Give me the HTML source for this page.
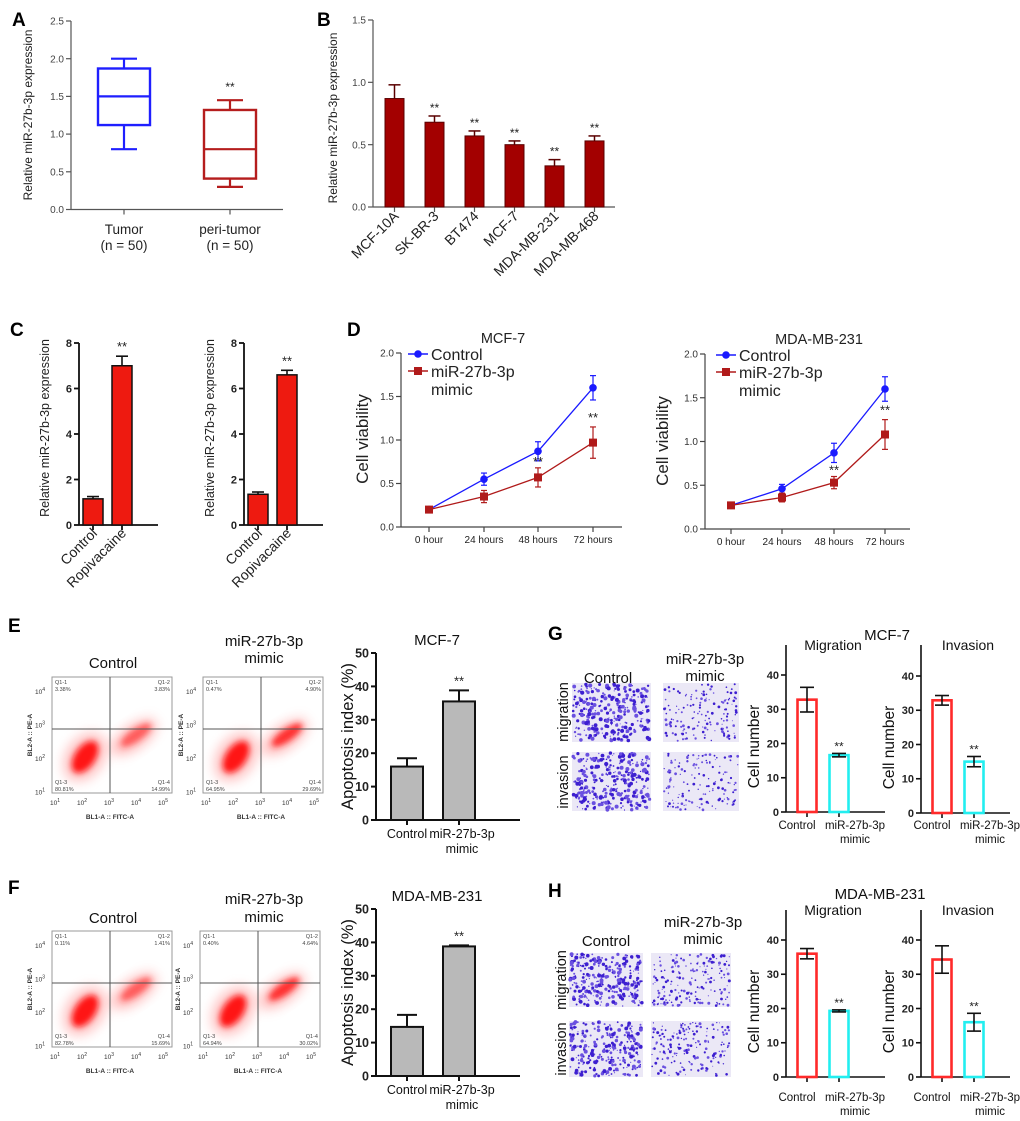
<!DOCTYPE html>
<html><head><meta charset="utf-8"><style>
html,body{margin:0;padding:0;background:#fff}
svg{display:block;font-family:"Liberation Sans",Arial,sans-serif}
</style></head><body>
<svg id="fig" xmlns="http://www.w3.org/2000/svg" width="1020" height="1121" viewBox="0 0 1020 1121">
<defs>
<filter id="blur3" x="-50%" y="-50%" width="200%" height="200%"><feGaussianBlur stdDeviation="3"/></filter>
<filter id="blur6" x="-50%" y="-50%" width="200%" height="200%"><feGaussianBlur stdDeviation="6"/></filter>
</defs>
<g font-weight="bold" font-size="19">
<text x="12" y="26">A</text>
<text x="317" y="26">B</text>
<text x="10" y="336">C</text>
<text x="347" y="336">D</text>
<text x="8" y="632">E</text>
<text x="548" y="640">G</text>
<text x="8" y="894">F</text>
<text x="548" y="897">H</text>
</g>
<g id="root"></g>
</svg>
<script>
// ---------- data ----------
const boxCats = ['Tumor', 'peri-tumor'];
const boxMin = [0.8, 0.3];
const boxQ1 = [1.12, 0.41];
const boxMed = [1.5, 0.8];
const boxQ3 = [1.87, 1.32];
const boxMax = [2.0, 1.45];
const aTicks = [0, 0.5, 1.0, 1.5, 2.0, 2.5];

const bCats = ['MCF-10A', 'SK-BR-3', 'BT474', 'MCF-7', 'MDA-MB-231', 'MDA-MB-468'];
const bVals = [0.87, 0.68, 0.57, 0.50, 0.33, 0.53];
const bErr = [0.11, 0.05, 0.04, 0.03, 0.05, 0.04];
const bTicks = [0, 0.5, 1.0, 1.5];

const cCats = ['Control', 'Ropivacaine'];
const c1Vals = [1.15, 7.0];
const c1Err = [0.1, 0.42];
const c2Vals = [1.35, 6.6];
const c2Err = [0.1, 0.2];
const cTicks = [0, 2, 4, 6, 8];

const dCats = ['0 hour', '24 hours', '48 hours', '72 hours'];
const d1Ctrl = [0.2, 0.55, 0.87, 1.6];
const d1CtrlErr = [0.02, 0.07, 0.11, 0.14];
const d1Mim = [0.2, 0.35, 0.57, 0.97];
const d1MimErr = [0.02, 0.07, 0.11, 0.18];
const d2Ctrl = [0.27, 0.46, 0.87, 1.6];
const d2CtrlErr = [0.02, 0.05, 0.11, 0.14];
const d2Mim = [0.27, 0.36, 0.53, 1.08];
const d2MimErr = [0.02, 0.05, 0.07, 0.17];
const dTicks = [0, 0.5, 1.0, 1.5, 2.0];

const apCats = ['Control', 'miR-27b-3p'];
const eVals = [16, 35.5];
const eErr = [2.5, 3.3];
const fVals = [14.7, 38.8];
const fErr = [3.6, 0.3];
const apTicks = [0, 10, 20, 30, 40, 50];

const gMig = [32.8, 16.6];
const gMigErr = [3.6, 0.5];
const gInv = [32.9, 15];
const gInvErr = [1.4, 1.5];
const hMig = [36, 19.3];
const hMigErr = [1.5, 0.3];
const hInv = [34.3, 16];
const hInvErr = [4, 2.6];
const cnTicks = [0, 10, 20, 30, 40];

// ---------- helpers ----------
const NS = 'http://www.w3.org/2000/svg';
const root = document.getElementById('root');
function mk(tag, attrs, parent) {
  const n = document.createElementNS(NS, tag);
  for (const k in attrs) n.setAttribute(k, attrs[k]);
  (parent || root).appendChild(n);
  return n;
}
function nm(n, name, inter) {
  
  
  return n;
}
function txt(s, attrs, parent, name) {
  const t = mk('text', attrs, parent);
  t.textContent = s;
  nm(t, name);
  return t;
}
function lin(y0, yTop, vmax) { return v => y0 - v / vmax * (y0 - yTop); }

function yAxis(g, x, y0, yTop, scale, ticks, fmt, opt) {
  const ax = mk('line', {x1: x, y1: y0, x2: x, y2: opt.top || yTop, stroke: opt.color, 'stroke-width': opt.w}, g);
  nm(ax, 'y-axis');
  ticks.forEach(t => {
    const y = scale(t);
    const tk = mk('line', {x1: x - 5, y1: y, x2: x, y2: y, stroke: opt.color, 'stroke-width': opt.w}, g);
    nm(tk, 'y-tick');
    txt(fmt(t), {x: x - 7, y: y + opt.fs * 0.36, 'text-anchor': 'end', 'font-size': opt.fs, 'font-weight': opt.bold ? 'bold' : 'normal', fill: opt.tcolor || '#222'}, g, 'y-tick-label');
  });
}
function xAxis(g, x1, x2, y, xs, opt) {
  const ax = mk('line', {x1: x1, y1: y, x2: x2, y2: y, stroke: opt.color, 'stroke-width': opt.w}, g);
  nm(ax, 'x-axis');
  xs.forEach(x => {
    const tk = mk('line', {x1: x, y1: y, x2: x, y2: y + 5, stroke: opt.color, 'stroke-width': opt.w}, g);
    nm(tk, 'x-tick');
  });
}
function stars(g, x, y, fs) { txt('**', {x: x, y: y, 'text-anchor': 'middle', 'font-size': fs || 13, fill: '#222'}, g, 'significance-marker'); }
function errUp(g, x, yv, ye, half, color, w) {
  const l = mk('line', {x1: x, y1: yv, x2: x, y2: ye, stroke: color, 'stroke-width': w}, g); nm(l, 'error-bar');
  const c = mk('line', {x1: x - half, y1: ye, x2: x + half, y2: ye, stroke: color, 'stroke-width': w}, g); nm(c, 'error-cap');
}
function errBoth(g, x, ylo, yhi, half, color, w) {
  const l = mk('line', {x1: x, y1: ylo, x2: x, y2: yhi, stroke: color, 'stroke-width': w}, g); nm(l, 'error-bar');
  [ylo, yhi].forEach(y => { const c = mk('line', {x1: x - half, y1: y, x2: x + half, y2: y, stroke: color, 'stroke-width': w}, g); nm(c, 'error-cap'); });
}
const f1 = t => t.toFixed(1);
const f0 = t => String(t);

// ---------- Panel A ----------
(function () {
  const g = nm(mk('g', {}), 'panel-a-boxplot');
  const y = lin(209.5, 21, 2.5);
  const xc = i => 124 + i * 106;
  yAxis(g, 71, 209.5, 21, y, aTicks, f1, {color: '#555', w: 1.2, fs: 10, tcolor: '#444'});
  xAxis(g, 71, 283, 209.5, boxCats.map((c, i) => xc(i)), {color: '#555', w: 1.2});
  const cols = ['#1f1fff', '#b51d1d'];
  boxCats.forEach((c, i) => {
    const x = xc(i), col = cols[i];
    const bx = mk('rect', {x: x - 26, y: y(boxQ3[i]), width: 52, height: y(boxQ1[i]) - y(boxQ3[i]), fill: 'none', stroke: col, 'stroke-width': 2.4}, g); nm(bx, 'box-' + c);
    const md = mk('line', {x1: x - 26, x2: x + 26, y1: y(boxMed[i]), y2: y(boxMed[i]), stroke: col, 'stroke-width': 2.2}, g); nm(md, 'median-line');
    errBoth(g, x, y(boxQ3[i]), y(boxMax[i]), 0, col, 2.2);
    errBoth(g, x, y(boxQ1[i]), y(boxMin[i]), 0, col, 2.2);
    const c1 = mk('line', {x1: x - 13, x2: x + 13, y1: y(boxMax[i]), y2: y(boxMax[i]), stroke: col, 'stroke-width': 2.2}, g); nm(c1, 'whisker-cap-max');
    const c2 = mk('line', {x1: x - 13, x2: x + 13, y1: y(boxMin[i]), y2: y(boxMin[i]), stroke: col, 'stroke-width': 2.2}, g); nm(c2, 'whisker-cap-min');
    txt(c, {x: x, y: 234, 'text-anchor': 'middle', 'font-size': 13.5, fill: '#222'}, g, 'x-category-label');
    txt('(n = 50)', {x: x, y: 250, 'text-anchor': 'middle', 'font-size': 13.5, fill: '#222'}, g, 'x-category-n');
  });
  stars(g, xc(1), y(boxMax[1]) - 9, 12);
  txt('Relative miR-27b-3p  expression', {transform: 'translate(32,115) rotate(-90)', 'text-anchor': 'middle', 'font-size': 12, fill: '#222'}, g, 'y-axis-title');
})();

// ---------- Panel B ----------
(function () {
  const g = nm(mk('g', {}), 'panel-b-bar-chart');
  const y = lin(207, 20, 1.5);
  const xc = i => 394.5 + i * 40;
  yAxis(g, 373, 207, 20, y, bTicks, f1, {color: '#555', w: 1.2, fs: 10, tcolor: '#444'});
  xAxis(g, 373, 615, 207, bCats.map((c, i) => xc(i)), {color: '#555', w: 1.2});
  bCats.forEach((c, i) => {
    const x = xc(i);
    errUp(g, x, y(bVals[i]), y(bVals[i] + bErr[i]), 6, '#5a0000', 1.5);
    const r = mk('rect', {x: x - 9.5, y: y(bVals[i]), width: 19, height: 207 - y(bVals[i]), fill: '#a30000', stroke: '#5a0000', 'stroke-width': 1}, g); nm(r, 'bar-' + c);
    if (i > 0) stars(g, x, y(bVals[i] + bErr[i]) - 4, 12);
    txt(c, {transform: 'translate(' + (x + 5) + ',217) rotate(-45)', 'text-anchor': 'end', 'font-size': 14, fill: '#222'}, g, 'x-category-label');
  });
  txt('Relative miR-27b-3p  expression', {transform: 'translate(337,118) rotate(-90)', 'text-anchor': 'middle', 'font-size': 12, fill: '#222'}, g, 'y-axis-title');
})();

// ---------- Panel C ----------
function panelC(ax, end, xs, vals, errs, labX, name) {
  const g = nm(mk('g', {}), name);
  const y = lin(525, 343, 8);
  yAxis(g, ax, 525, 343, y, cTicks, f0, {color: '#111', w: 1.8, fs: 11, bold: true});
  xAxis(g, ax, end, 525, xs, {color: '#111', w: 1.8});
  cCats.forEach((c, i) => {
    const x = xs[i];
    errUp(g, x, y(vals[i]), y(vals[i] + errs[i]), 6, '#111', 1.6);
    const r = mk('rect', {x: x - 10, y: y(vals[i]), width: 20, height: 525 - y(vals[i]), fill: '#ee1a10', stroke: '#111', 'stroke-width': 1.5}, g); nm(r, 'bar-' + c);
    txt(c, {transform: 'translate(' + (x + 5) + ',534) rotate(-45)', 'text-anchor': 'end', 'font-size': 14, fill: '#222'}, g, 'x-category-label');
  });
  stars(g, xs[1], y(vals[1] + errs[1]) - 5, 13);
  txt('Relative miR-27b-3p  expression', {transform: 'translate(' + labX + ',428) rotate(-90)', 'text-anchor': 'middle', 'font-size': 12.5, fill: '#222'}, g, 'y-axis-title');
}
panelC(79, 158, [93, 122], c1Vals, c1Err, 49, 'panel-c-left-bar-chart');
panelC(244, 323, [258, 287], c2Vals, c2Err, 214, 'panel-c-right-bar-chart');

// ---------- Panel D ----------
function panelD(ax, end, yTop, y0, xs, ctrl, ctrlE, mim, mimE, title, titleX, legX, labX, name) {
  const g = nm(mk('g', {}), name);
  const y = lin(y0, yTop, 2.0);
  yAxis(g, ax, y0, yTop, y, dTicks, f1, {color: '#444', w: 1.2, fs: 10, tcolor: '#333'});
  xAxis(g, ax, end, y0, xs, {color: '#444', w: 1.2});
  dCats.forEach((c, i) => txt(c, {x: xs[i], y: y0 + 16, 'text-anchor': 'middle', 'font-size': 10, fill: '#222'}, g, 'x-tick-label'));
  const series = [[ctrl, ctrlE, '#1a1aff', 'control'], [mim, mimE, '#b01a1a', 'mimic']];
  series.forEach(s => {
    const pts = s[0].map((v, i) => xs[i] + ',' + y(v)).join(' ');
    const pl = mk('polyline', {points: pts, fill: 'none', stroke: s[2], 'stroke-width': 1.3}, g); nm(pl, 'line-' + s[3]);
    s[0].forEach((v, i) => {
      errBoth(g, xs[i], y(v - s[1][i]), y(v + s[1][i]), 3, s[2], 1.2);
      let m;
      if (s[3] === 'control') m = mk('circle', {cx: xs[i], cy: y(v), r: 3.8, fill: s[2]}, g);
      else m = mk('rect', {x: xs[i] - 4, y: y(v) - 4, width: 8, height: 8, fill: s[2]}, g);
      nm(m, 'point-' + s[3]);
    });
  });
  stars(g, xs[2], y(mim[2] + mimE[2]) - 2, 13);
  stars(g, xs[3], y(mim[3] + mimE[3]) - 5, 13);
  txt(title, {x: titleX, y: yTop - 10, 'text-anchor': 'middle', 'font-size': 14.5, fill: '#222'}, g, 'chart-title');
  const l1 = mk('line', {x1: legX, x2: legX + 20, y1: yTop + 1, y2: yTop + 1, stroke: '#1a1aff', 'stroke-width': 1.5}, g); nm(l1, 'legend-line-control');
  const m1 = mk('circle', {cx: legX + 10, cy: yTop + 1, r: 3.8, fill: '#1a1aff'}, g); nm(m1, 'legend-marker-control');
  txt('Control', {x: legX + 23, y: yTop + 7, 'font-size': 16, fill: '#222'}, g, 'legend-entry-control');
  const l2 = mk('line', {x1: legX, x2: legX + 20, y1: yTop + 18, y2: yTop + 18, stroke: '#b01a1a', 'stroke-width': 1.5}, g); nm(l2, 'legend-line-mimic');
  const m2 = mk('rect', {x: legX + 6, y: yTop + 14, width: 8, height: 8, fill: '#b01a1a'}, g); nm(m2, 'legend-marker-mimic');
  txt('miR-27b-3p', {x: legX + 23, y: yTop + 24, 'font-size': 16, fill: '#222'}, g, 'legend-entry-mimic');
  txt('mimic', {x: legX + 23, y: yTop + 42, 'font-size': 16, fill: '#222'}, g, 'legend-entry-mimic-2');
  txt('Cell viability', {transform: 'translate(' + labX + ',' + (y0 - 88) + ') rotate(-90)', 'text-anchor': 'middle', 'font-size': 17, fill: '#222'}, g, 'y-axis-title');
}
panelD(401, 622, 353, 527, [429, 484, 538, 593], d1Ctrl, d1CtrlErr, d1Mim, d1MimErr, 'MCF-7', 503, 408, 368, 'panel-d-mcf7-line-chart');
panelD(705, 910, 354, 529, [731, 782, 834, 885], d2Ctrl, d2CtrlErr, d2Mim, d2MimErr, 'MDA-MB-231', 819, 716, 668, 'panel-d-mdamb231-line-chart');

// ---------- Flow cytometry plots ----------
const q1 = [['3.38%', '3.83%', '80.81%', '14.99%'], ['0.47%', '4.90%', '64.95%', '29.69%'], ['0.11%', '1.41%', '82.78%', '15.69%'], ['0.40%', '4.64%', '64.94%', '30.02%']];
function flow(x0, y0, q, heavy2, name) {
  const g = nm(mk('g', {}), name);
  const W = 120, H = 116;
  const bg = mk('rect', {x: x0, y: y0, width: W, height: H, fill: '#fff', stroke: '#999', 'stroke-width': 1}, g); nm(bg, 'plot-frame');
  const cg = mk('g', {}, g); nm(cg, 'scatter-density');
  let e;
  e = mk('ellipse', {cx: x0 + 33, cy: y0 + 80, rx: 18, ry: 26, fill: '#ff8080', opacity: 0.55, filter: 'url(#blur6)', transform: 'rotate(35 ' + (x0 + 33) + ' ' + (y0 + 80) + ')'}, cg); nm(e, 'population-halo');
  e = mk('ellipse', {cx: x0 + 33, cy: y0 + 80, rx: 10, ry: 18, fill: '#ff1010', opacity: 0.95, filter: 'url(#blur3)', transform: 'rotate(35 ' + (x0 + 33) + ' ' + (y0 + 80) + ')'}, cg); nm(e, 'population-live');
  e = mk('ellipse', {cx: x0 + 82, cy: y0 + 60, rx: 11, ry: 26, fill: '#ff7070', opacity: 0.55, filter: 'url(#blur6)', transform: 'rotate(55 ' + (x0 + 82) + ' ' + (y0 + 60) + ')'}, cg); nm(e, 'population-halo');
  e = mk('ellipse', {cx: x0 + 84, cy: y0 + 58, rx: 6, ry: 18, fill: '#ff2020', opacity: heavy2 ? 0.9 : 0.6, filter: 'url(#blur3)', transform: 'rotate(55 ' + (x0 + 84) + ' ' + (y0 + 58) + ')'}, cg); nm(e, 'population-apoptotic');
  const vl = mk('line', {x1: x0 + 58, x2: x0 + 58, y1: y0, y2: y0 + H, stroke: '#555', 'stroke-width': 1}, g); nm(vl, 'quadrant-line-vertical');
  const hl = mk('line', {x1: x0, x2: x0 + W, y1: y0 + 52, y2: y0 + 52, stroke: '#555', 'stroke-width': 1}, g); nm(hl, 'quadrant-line-horizontal');
  const qs = [['Q1-1', q[0], x0 + 3, y0 + 7, 'start'], ['Q1-2', q[1], x0 + W - 2, y0 + 7, 'end'], ['Q1-3', q[2], x0 + 3, y0 + H - 9, 'start'], ['Q1-4', q[3], x0 + W - 2, y0 + H - 9, 'end']];
  qs.forEach(a => {
    txt(a[0], {x: a[2], y: a[3], 'font-size': 5.5, 'text-anchor': a[4], fill: '#444'}, g, 'quadrant-label');
    txt(a[1], {x: a[2], y: a[3] + 7, 'font-size': 5.5, 'text-anchor': a[4], fill: '#444'}, g, 'quadrant-percent');
  });
  [1, 2, 3, 4, 5].forEach((p, i) => {
    const t = txt('10', {x: x0 + 3 + i * 27, y: y0 + H + 12, 'font-size': 6.5, 'text-anchor': 'middle', fill: '#333'}, g, 'x-tick-label');
    const s = mk('tspan', {dy: -3, 'font-size': 5}, t); s.textContent = p;
  });
  [4, 3, 2, 1].forEach((p, i) => {
    const t = txt('10', {x: x0 - 12, y: y0 + 17 + i * 33.5, 'font-size': 6.5, 'text-anchor': 'middle', fill: '#333'}, g, 'y-tick-label');
    const s = mk('tspan', {dy: -3, 'font-size': 5}, t); s.textContent = p;
  });
  txt('BL1-A :: FITC-A', {x: x0 + 58, y: y0 + H + 26, 'font-size': 6.5, 'font-weight': 'bold', 'text-anchor': 'middle', fill: '#333'}, g, 'x-axis-title');
  txt('BL2-A :: PE-A', {transform: 'translate(' + (x0 - 20) + ',' + (y0 + 58) + ') rotate(-90)', 'font-size': 6.5, 'font-weight': 'bold', 'text-anchor': 'middle', fill: '#333'}, g, 'y-axis-title');
}
flow(52, 677, q1[0], false, 'panel-e-flow-control');
flow(203, 677, q1[1], true, 'panel-e-flow-mimic');
flow(52, 931, q1[2], false, 'panel-f-flow-control');
flow(200, 931, q1[3], true, 'panel-f-flow-mimic');
[[113, 668, 'Control', 'panel-e-control-title'], [264, 646, 'miR-27b-3p', 'panel-e-mimic-title'], [264, 663, 'mimic', 'panel-e-mimic-title-2'],
 [113, 923, 'Control', 'panel-f-control-title'], [264, 904, 'miR-27b-3p', 'panel-f-mimic-title'], [264, 922, 'mimic', 'panel-f-mimic-title-2']].forEach(a => {
  txt(a[2], {x: a[0], y: a[1], 'font-size': 15, 'text-anchor': 'middle', fill: '#111'}, root, a[3]);
});

// ---------- Apoptosis bar charts ----------
function apop(y0, yTop, vals, errs, title, name) {
  const g = nm(mk('g', {}), name);
  const y = lin(y0, yTop, 50);
  yAxis(g, 376, y0, yTop, y, apTicks, f0, {color: '#111', w: 2, fs: 12.5, bold: true});
  xAxis(g, 376, 520, y0, [407, 459], {color: '#111', w: 2});
  const xs = [407, 459];
  apCats.forEach((c, i) => {
    errUp(g, xs[i], y(vals[i]), y(vals[i] + errs[i]), 10, '#111', 2);
    const r = mk('rect', {x: xs[i] - 16, y: y(vals[i]), width: 32, height: y0 - y(vals[i]), fill: '#b9b9b9', stroke: '#111', 'stroke-width': 2}, g); nm(r, 'bar-' + c);
  });
  stars(g, xs[1], y(vals[1] + errs[1]) - 5, 13);
  txt('Control', {x: 407, y: y0 + 18, 'text-anchor': 'middle', 'font-size': 12.5, fill: '#111'}, g, 'x-category-label');
  txt('miR-27b-3p', {x: 462, y: y0 + 18, 'text-anchor': 'middle', 'font-size': 12.5, fill: '#111'}, g, 'x-category-label');
  txt('mimic', {x: 462, y: y0 + 33, 'text-anchor': 'middle', 'font-size': 12.5, fill: '#111'}, g, 'x-category-label-2');
  txt(title, {x: 437, y: yTop - 8, 'text-anchor': 'middle', 'font-size': 15, fill: '#111'}, g, 'chart-title');
  txt('Apoptosis index (%)', {transform: 'translate(353,' + ((y0 + yTop) / 2) + ') rotate(-90)', 'text-anchor': 'middle', 'font-size': 16.5, fill: '#111'}, g, 'y-axis-title');
}
apop(820, 653, eVals, eErr, 'MCF-7', 'panel-e-apoptosis-bar-chart');
apop(1076, 909, fVals, fErr, 'MDA-MB-231', 'panel-f-apoptosis-bar-chart');

// ---------- Transwell images ----------
let seed = 12345;
function rnd() { seed = (seed * 1103515245 + 12345) % 2147483648; return seed / 2147483648; }
function transwell(x, y, w, h, n, big, name) {
  const g = nm(mk('g', {}), name);
  const bg = mk('rect', {x: x, y: y, width: w, height: h, fill: '#ebe8f6'}, g); nm(bg, 'image-background');
  for (let i = 0; i < n; i++) {
    const c = mk('circle', {cx: (x + 1 + rnd() * (w - 2)).toFixed(1), cy: (y + 1 + rnd() * (h - 2)).toFixed(1), r: (0.5 + rnd() * big).toFixed(1), fill: rnd() < 0.5 ? '#3d1fd0' : '#6a50e0'}, g);
    nm(c, 'stained-cell');
  }
}
transwell(572, 683, 79, 59, 300, 1.6, 'g-control-migration-image');
transwell(572, 752, 79, 59, 300, 1.6, 'g-control-invasion-image');
transwell(663, 683, 76, 59, 150, 0.9, 'g-mimic-migration-image');
transwell(663, 752, 76, 59, 150, 0.9, 'g-mimic-invasion-image');
transwell(569, 953, 74, 54, 280, 1.5, 'h-control-migration-image');
transwell(569, 1021, 74, 56, 270, 1.5, 'h-control-invasion-image');
transwell(651, 953, 80, 54, 180, 1.0, 'h-mimic-migration-image');
transwell(651, 1021, 80, 56, 180, 1.0, 'h-mimic-invasion-image');
[[608, 683, 'Control', 'g-control-title'], [705, 664, 'miR-27b-3p', 'g-mimic-title'], [705, 681, 'mimic', 'g-mimic-title-2'],
 [606, 946, 'Control', 'h-control-title'], [703, 927, 'miR-27b-3p', 'h-mimic-title'], [703, 944, 'mimic', 'h-mimic-title-2'],
 [887, 640, 'MCF-7', 'g-title'], [880, 899, 'MDA-MB-231', 'h-title']].forEach(a => {
  txt(a[2], {x: a[0], y: a[1], 'font-size': 15, 'text-anchor': 'middle', fill: '#111'}, root, a[3]);
});
[[563, 712, 'migration'], [563, 782, 'invasion'], [561, 980, 'migration'], [561, 1049, 'invasion']].forEach(a => {
  txt(a[2], {transform: 'translate(' + (a[0] + 5) + ',' + a[1] + ') rotate(-90)', 'font-size': 14.5, 'text-anchor': 'middle', fill: '#111'}, root, 'row-label-' + a[2]);
});

// ---------- Cell number bar charts ----------
function cellChart(ax, end, y0, yTop, top, vals, errs, title, labelY, name) {
  const g = nm(mk('g', {}), name);
  const y = lin(y0, yTop, 40);
  yAxis(g, ax, y0, yTop, y, cnTicks, f0, {color: '#111', w: 1.6, fs: 11, bold: true, top: top});
  const xs = [ax + 21, ax + 53];
  xAxis(g, ax, end, y0, xs, {color: '#111', w: 1.6});
  const cols = ['#ff2a2a', '#22eef0'];
  apCats.forEach((c, i) => {
    const r = mk('rect', {x: xs[i] - 9.5, y: y(vals[i]), width: 19, height: y0 - y(vals[i]), fill: '#fff', stroke: cols[i], 'stroke-width': 2.6}, g); nm(r, 'bar-' + c);
    errBoth(g, xs[i], y(vals[i] - errs[i]), y(vals[i] + errs[i]), 7, '#111', 1.6);
  });
  stars(g, xs[1], y(vals[1] + errs[1]) - 3, 12);
  txt('Control', {x: xs[0] - 10, y: labelY, 'text-anchor': 'middle', 'font-size': 11.5, fill: '#111'}, g, 'x-category-label');
  txt('miR-27b-3p', {x: xs[1] + 16, y: labelY, 'text-anchor': 'middle', 'font-size': 11.5, fill: '#111'}, g, 'x-category-label');
  txt('mimic', {x: xs[1] + 16, y: labelY + 14, 'text-anchor': 'middle', 'font-size': 11.5, fill: '#111'}, g, 'x-category-label-2');
  txt(title, {x: ax + 47, y: top + 5, 'text-anchor': 'middle', 'font-size': 14, fill: '#111'}, g, 'chart-title');
  txt('Cell number', {transform: 'translate(' + (ax - 27) + ',' + ((y0 + yTop) / 2 + 3) + ') rotate(-90)', 'text-anchor': 'middle', 'font-size': 15.5, fill: '#111'}, g, 'y-axis-title');
}
cellChart(786, 885, 812, 675, 645, gMig, gMigErr, 'Migration', 829, 'g-migration-bar-chart');
cellChart(921, 1010, 813, 676, 645, gInv, gInvErr, 'Invasion', 829, 'g-invasion-bar-chart');
cellChart(786, 885, 1077, 940, 910, hMig, hMigErr, 'Migration', 1101, 'h-migration-bar-chart');
cellChart(921, 1010, 1077, 940, 910, hInv, hInvErr, 'Invasion', 1101, 'h-invasion-bar-chart');
</script>
</body></html>
